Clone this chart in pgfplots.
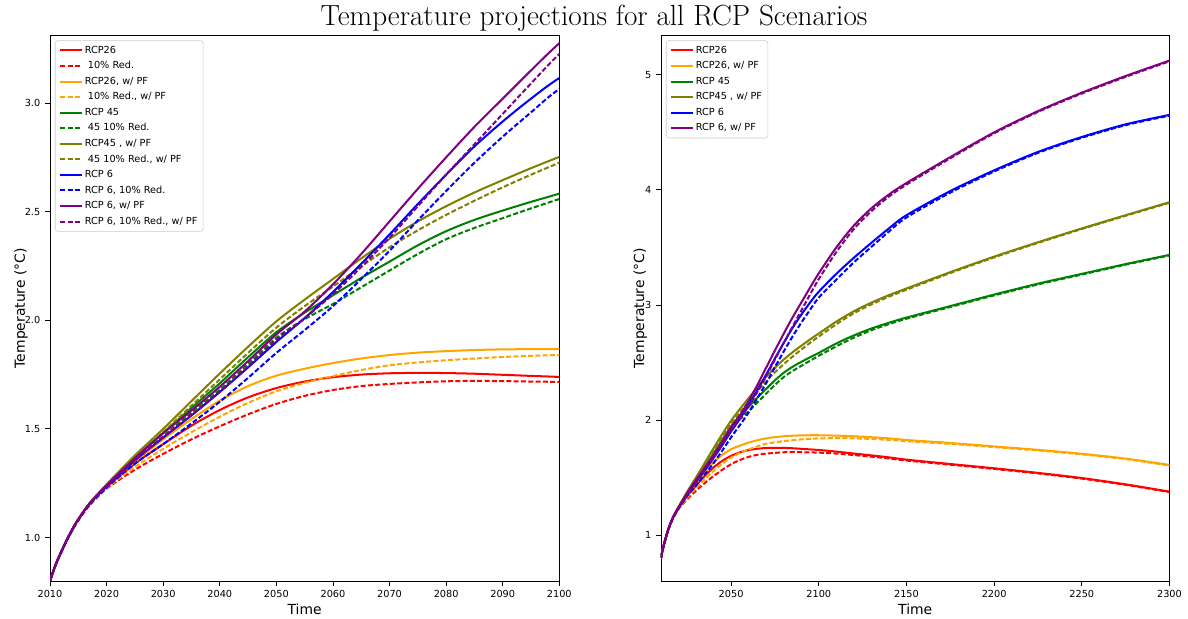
\documentclass[border=0pt]{standalone}
\usepackage{pgfplots}
\usepackage{pgfplotstable}
\pgfplotsset{compat=1.18}
\usepackage{fontspec}
\newfontfamily\dejavu{DejaVu Sans}

\definecolor{cRed}{HTML}{FF0000}
\definecolor{cOrange}{HTML}{FFA500}
\definecolor{cGreen}{HTML}{008000}
\definecolor{cOlive}{HTML}{808000}
\definecolor{cBlue}{HTML}{0000FF}
\definecolor{cPurple}{HTML}{800080}
\definecolor{cFrame}{HTML}{CCCCCC}

% Temperature anomaly (deg C) per scenario; "r" = 10% reduction, "pf" = with permafrost
\pgfplotstableread{
t    r26   r26r  r26pf r26rpf g45   g45r  g45pf g45rpf b6    b6r   b6pf  b6rpf
2010 0.800 0.800 0.800 0.800  0.800 0.800 0.800 0.800  0.800 0.800 0.800 0.800
2011 0.875 0.875 0.875 0.875  0.875 0.875 0.875 0.875  0.875 0.875 0.875 0.875
2012 0.935 0.934 0.935 0.934  0.935 0.934 0.935 0.934  0.935 0.934 0.935 0.934
2013 0.990 0.988 0.990 0.988  0.990 0.988 0.991 0.989  0.990 0.988 0.991 0.989
2014 1.040 1.037 1.040 1.037  1.040 1.038 1.041 1.039  1.040 1.037 1.041 1.039
2015 1.083 1.080 1.083 1.080  1.084 1.081 1.085 1.082  1.083 1.080 1.084 1.081
2017 1.155 1.149 1.156 1.151  1.157 1.153 1.159 1.155  1.156 1.151 1.157 1.154
2020 1.233 1.225 1.236 1.228  1.240 1.236 1.245 1.240  1.235 1.230 1.240 1.236
2025 1.340 1.312 1.350 1.325  1.368 1.358 1.378 1.368  1.355 1.340 1.365 1.355
2030 1.430 1.385 1.452 1.408  1.482 1.466 1.500 1.485  1.460 1.430 1.480 1.462
2035 1.515 1.452 1.545 1.485  1.597 1.575 1.628 1.607  1.562 1.525 1.585 1.565
2040 1.587 1.512 1.630 1.556  1.710 1.680 1.755 1.728  1.670 1.625 1.694 1.670
2045 1.645 1.567 1.697 1.620  1.830 1.800 1.878 1.850  1.783 1.735 1.812 1.788
2050 1.688 1.615 1.745 1.673  1.945 1.920 1.995 1.966  1.900 1.850 1.935 1.910
2055 1.718 1.652 1.777 1.712  2.035 2.005 2.095 2.065  2.010 1.955 2.040 2.010
2060 1.738 1.679 1.803 1.743  2.115 2.075 2.190 2.155  2.130 2.065 2.165 2.120
2065 1.750 1.697 1.824 1.771  2.195 2.152 2.285 2.248  2.260 2.190 2.305 2.245
2070 1.756 1.707 1.840 1.793  2.270 2.229 2.375 2.336  2.395 2.320 2.455 2.380
2075 1.758 1.714 1.851 1.806  2.345 2.305 2.455 2.414  2.535 2.460 2.605 2.525
2080 1.757 1.719 1.858 1.816  2.410 2.373 2.525 2.485  2.670 2.595 2.750 2.670
2085 1.754 1.721 1.863 1.824  2.462 2.425 2.588 2.550  2.800 2.725 2.890 2.810
2090 1.749 1.720 1.866 1.831  2.505 2.470 2.645 2.612  2.915 2.845 3.020 2.950
2095 1.744 1.718 1.867 1.836  2.545 2.515 2.700 2.670  3.020 2.957 3.150 3.090
2100 1.739 1.716 1.867 1.840  2.583 2.558 2.752 2.725  3.115 3.064 3.275 3.225
2110 1.725 1.708 1.864 1.842  2.665 2.640 2.855 2.832  3.270 3.220 3.500 3.460
2120 1.708 1.695 1.858 1.840  2.735 2.715 2.945 2.928  3.410 3.370 3.690 3.660
2130 1.692 1.681 1.850 1.835  2.795 2.780 3.020 3.005  3.540 3.505 3.840 3.815
2140 1.675 1.665 1.840 1.827  2.845 2.833 3.085 3.072  3.665 3.638 3.960 3.942
2150 1.655 1.647 1.826 1.816  2.890 2.880 3.143 3.132  3.780 3.760 4.060 4.046
2175 1.617 1.611 1.800 1.792  2.990 2.982 3.285 3.277  3.990 3.976 4.285 4.275
2200 1.580 1.574 1.770 1.764  3.090 3.083 3.420 3.413  4.170 4.160 4.500 4.492
2225 1.540 1.535 1.740 1.735  3.185 3.178 3.545 3.539  4.330 4.322 4.685 4.678
2250 1.495 1.490 1.706 1.701  3.270 3.264 3.665 3.660  4.460 4.453 4.845 4.838
2275 1.440 1.436 1.664 1.660  3.355 3.350 3.780 3.775  4.570 4.563 4.990 4.983
2300 1.377 1.373 1.609 1.604  3.435 3.430 3.893 3.888  4.652 4.646 5.124 5.118
}\temps

\pgfplotsset{
  tempaxis/.style={
    scale only axis,
    height=392.8pt,
    anchor=south west,
    axis line style={line width=0.6pt},
    tick pos=left,
    tick align=outside,
    major tick length=3.5pt,
    every tick/.style={black, line width=0.6pt},
    ticklabel style={font=\dejavu\fontsize{7}{8}\selectfont},
    /pgf/number format/assume math mode=true,
    /pgf/number format/1000 sep={},
    label style={font=\dejavu\fontsize{10}{12}\selectfont},
    xlabel={Time},
    ylabel={Temperature (°C)},
    xlabel style={at={(axis description cs:0.5,-0.0606)}, anchor=base},
    legend cell align=left,
    legend style={
      at={(0.0098,0.991)}, anchor=north west,
      draw=cFrame, rounded corners=2pt,
      fill=white, fill opacity=0.8, text opacity=1,
      font=\dejavu\fontsize{7}{8}\selectfont,
      row sep=2.1pt, inner xsep=3pt, inner ysep=2.5pt,
      nodes={inner sep=1.2pt, text height=5.3pt, text depth=1.4pt},
    },
    legend image code/.code={\draw[##1] (0pt,0pt) -- (15.6pt,0pt);},
    every axis plot/.append style={line width=1.45pt, smooth, no markers},
  },
  dashed line/.style={dash pattern=on 3.6pt off 1.65pt},
}

\begin{document}
\begin{tikzpicture}
\useasboundingbox (0,0) rectangle (855.36pt,445.68pt);

\node[anchor=base, font=\fontsize{21}{24}\selectfont] at (427.7pt,427.4pt)
  {Temperature projections for all RCP Scenarios};

% Left panel: 2010-2100
\begin{axis}[tempaxis,
  at={(36pt,27.36pt)}, width=366.7pt,
  xmin=2010, xmax=2100, ymin=0.80, ymax=3.311,
  xtick={2010,2020,...,2100},
  ytick={1.0,1.5,2.0,2.5,3.0},
  yticklabel style={/pgf/number format/fixed, /pgf/number format/fixed zerofill, /pgf/number format/precision=1},
  ylabel style={at={(axis description cs:-0.0491,0.5)}, anchor=base},
]
\addplot[cRed] table[x=t, y=r26] {\temps};
\addlegendentry{RCP26}
\addplot[cRed, dashed line] table[x=t, y=r26r] {\temps};
\addlegendentry{\ 10\% Red.}
\addplot[cOrange] table[x=t, y=r26pf] {\temps};
\addlegendentry{RCP26, w/ PF}
\addplot[cOrange, dashed line] table[x=t, y=r26rpf] {\temps};
\addlegendentry{\ 10\% Red., w/ PF}
\addplot[cGreen] table[x=t, y=g45] {\temps};
\addlegendentry{RCP 45}
\addplot[cGreen, dashed line] table[x=t, y=g45r] {\temps};
\addlegendentry{\ 45 10\% Red.}
\addplot[cOlive] table[x=t, y=g45pf] {\temps};
\addlegendentry{RCP45 , w/ PF}
\addplot[cOlive, dashed line] table[x=t, y=g45rpf] {\temps};
\addlegendentry{\ 45 10\% Red., w/ PF}
\addplot[cBlue] table[x=t, y=b6] {\temps};
\addlegendentry{RCP 6}
\addplot[cBlue, dashed line] table[x=t, y=b6r] {\temps};
\addlegendentry{RCP 6, 10\% Red.}
\addplot[cPurple] table[x=t, y=b6pf] {\temps};
\addlegendentry{RCP 6, w/ PF}
\addplot[cPurple, dashed line] table[x=t, y=b6rpf] {\temps};
\addlegendentry{RCP 6, 10\% Red., w/ PF}
\end{axis}

% Right panel: 2010-2300
\begin{axis}[tempaxis,
  at={(475.9pt,27.36pt)}, width=366.1pt,
  xmin=2010, xmax=2300, ymin=0.6, ymax=5.343,
  xtick={2050,2100,...,2300},
  ytick={1,2,3,4,5},
  ylabel style={at={(axis description cs:-0.0333,0.5)}, anchor=base},
]
\addplot[cRed] table[x=t, y=r26] {\temps};
\addlegendentry{RCP26}
\addplot[cRed, dashed line, forget plot] table[x=t, y=r26r] {\temps};
\addplot[cOrange] table[x=t, y=r26pf] {\temps};
\addlegendentry{RCP26, w/ PF}
\addplot[cOrange, dashed line, forget plot] table[x=t, y=r26rpf] {\temps};
\addplot[cGreen] table[x=t, y=g45] {\temps};
\addlegendentry{RCP 45}
\addplot[cGreen, dashed line, forget plot] table[x=t, y=g45r] {\temps};
\addplot[cOlive] table[x=t, y=g45pf] {\temps};
\addlegendentry{RCP45 , w/ PF}
\addplot[cOlive, dashed line, forget plot] table[x=t, y=g45rpf] {\temps};
\addplot[cBlue] table[x=t, y=b6] {\temps};
\addlegendentry{RCP 6}
\addplot[cBlue, dashed line, forget plot] table[x=t, y=b6r] {\temps};
\addplot[cPurple] table[x=t, y=b6pf] {\temps};
\addlegendentry{RCP 6, w/ PF}
\addplot[cPurple, dashed line, forget plot] table[x=t, y=b6rpf] {\temps};
\end{axis}
\end{tikzpicture}
\end{document}
